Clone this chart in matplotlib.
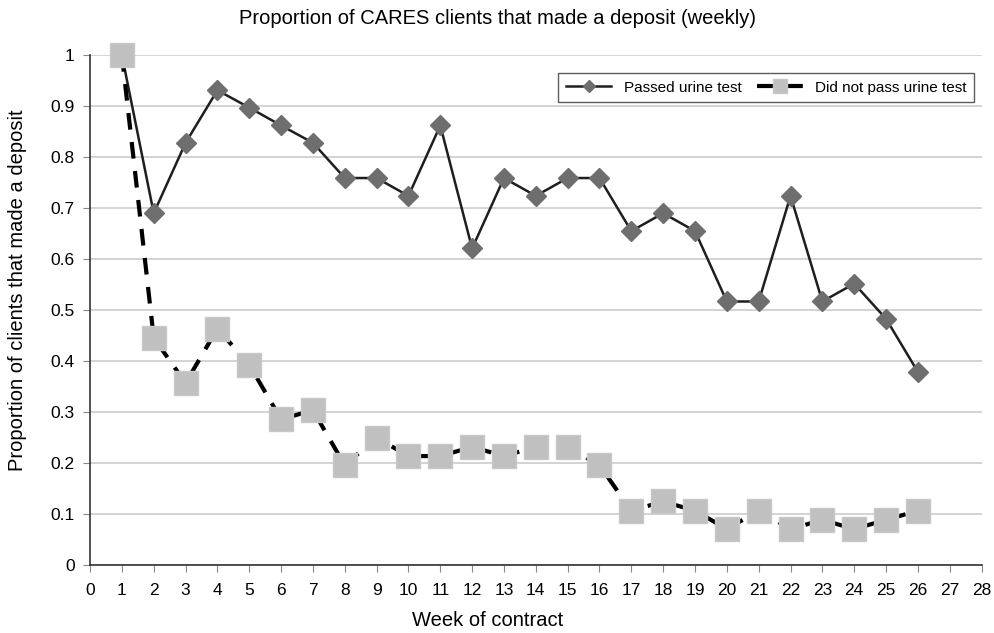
import matplotlib
matplotlib.use('Agg')
import matplotlib.pyplot as plt

plt.rcParams['font.family'] = ['Liberation Sans', 'DejaVu Sans']

weeks = list(range(1, 27))
passed = [1.0, 0.690, 0.828, 0.931, 0.897, 0.862, 0.828, 0.759, 0.759, 0.724,
          0.862, 0.621, 0.759, 0.724, 0.759, 0.759, 0.655, 0.690, 0.655, 0.517,
          0.517, 0.724, 0.517, 0.552, 0.483, 0.379]
not_passed = [1.0, 0.446, 0.357, 0.464, 0.393, 0.286, 0.304, 0.196, 0.250, 0.214,
              0.214, 0.232, 0.214, 0.232, 0.232, 0.196, 0.107, 0.125, 0.107, 0.071,
              0.107, 0.071, 0.089, 0.071, 0.089, 0.107]
ytick_labels = ['0', '0.1', '0.2', '0.3', '0.4', '0.5', '0.6', '0.7', '0.8', '0.9', '1']

fig = plt.figure(figsize=(9.95, 6.33), dpi=100)
ax = fig.add_axes([0.0905, 0.107, 0.896, 0.806])

ax.plot(weeks, passed, color='#1e1e1e', lw=1.8, marker='D', ms=10.5,
        mfc='#6e6e6e', mec='#6e6e6e', label='Passed urine test', zorder=3)
ax.plot(weeks, not_passed, color='black', lw=3, ls=(0, (4, 3)), marker='s', ms=17,
        mfc='#c0c0c0', mec='#c8c8c8', mew=1, label='Did not pass urine test',
        zorder=4, clip_on=False)

ax.set_xlim(0, 28)
ax.set_ylim(0, 1)
ax.set_xticks(range(0, 29))
ax.set_yticks([i / 10 for i in range(11)])
ax.set_yticklabels(ytick_labels)
ax.tick_params(labelsize=12.5, direction='out', length=5, color='#888888', pad=6)
ax.tick_params(axis='x', pad=8)
ax.yaxis.grid(True, color='#cccccc', lw=1.2)
ax.set_axisbelow(True)
for s in ['top', 'right']:
    ax.spines[s].set_visible(False)
for s in ['left', 'bottom']:
    ax.spines[s].set_color('#333333')
    ax.spines[s].set_linewidth(1.2)

fig.text(0.5, 1 - 18 / 633, 'Proportion of CARES clients that made a deposit (weekly)',
         fontsize=14.5, ha='center', va='center')
fig.text(0.49, 1 - 621 / 633, 'Week of contract', fontsize=14.5, ha='center', va='center')
fig.text(18 / 995, 1 - 290 / 633, 'Proportion of clients that made a deposit',
         fontsize=14.5, ha='center', va='center', rotation=90)

leg = ax.legend(loc='upper right', bbox_to_anchor=(1.0, 0.98), ncol=2, fontsize=11,
                frameon=True, fancybox=False, edgecolor='#333333', markerscale=0.6,
                handlelength=3.0, columnspacing=1.0, borderpad=0.5)
leg.get_frame().set_linewidth(1.0)

fig.savefig('out.png', dpi=100)
